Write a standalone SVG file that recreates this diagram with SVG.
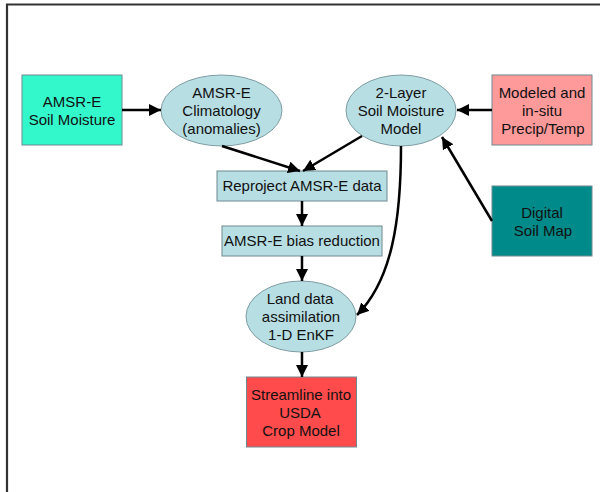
<svg xmlns="http://www.w3.org/2000/svg" width="600" height="492" viewBox="0 0 600 492">
<defs>
<style>
text{font-family:"Liberation Sans",Arial,sans-serif;font-size:15px;fill:#111;text-anchor:middle}
.ell{fill:#B7DEE3;stroke:#7E9CA2;stroke-width:1}
.box{stroke:#6F8A90;stroke-width:1}
.lb{fill:#B7DEE3}
.edge{stroke:#000;stroke-width:2.5;fill:none;marker-end:url(#ah)}
</style>
<marker id="ah" markerUnits="userSpaceOnUse" markerWidth="13" markerHeight="12" refX="12" refY="6" orient="auto">
<path d="M0,0 L12,6 L0,12 z" fill="#000"/>
</marker>
</defs>
<rect width="600" height="492" fill="#fff"/>
<path d="M7,492 V4.5 H600" fill="none" stroke="#333" stroke-width="2.2"/>
<line x1="8" y1="3.5" x2="600" y2="3.5" stroke="#999" stroke-width="1"/>

<g id="amsre-sm"><rect class="box" x="22" y="75" width="100" height="70" fill="#33F8CC"/>
<text x="72" y="107">AMSR-E</text><text x="72" y="125">Soil Moisture</text></g>

<g id="climatology"><ellipse class="ell" cx="221.5" cy="110.5" rx="60.5" ry="35.5"/>
<text x="221.5" y="98">AMSR-E</text><text x="221.5" y="116">Climatology</text><text x="221.5" y="134">(anomalies)</text></g>

<g id="two-layer"><ellipse class="ell" cx="401" cy="110.5" rx="55" ry="35.5"/>
<text x="401" y="98">2-Layer</text><text x="401" y="116">Soil Moisture</text><text x="401" y="134">Model</text></g>

<g id="modeled"><rect class="box" x="492" y="75" width="100" height="70" fill="#FF9A9A"/>
<text x="542" y="98">Modeled and</text><text x="542" y="116">in-situ</text><text x="543" y="134">Precip/Temp</text></g>

<g id="digital"><rect class="box" x="492" y="186" width="100" height="70" fill="#008A8A"/>
<text x="542" y="217.5">Digital</text><text x="543" y="235.5">Soil Map</text></g>

<g id="reproject"><rect class="box lb" x="217" y="171" width="170" height="30"/>
<text x="302" y="191">Reproject AMSR-E data</text></g>

<g id="bias"><rect class="box lb" x="222" y="226" width="160" height="30"/>
<text x="302" y="246">AMSR-E bias reduction</text></g>

<g id="assim"><ellipse class="ell" cx="301" cy="316.5" rx="55" ry="35.5"/>
<text x="300" y="304">Land data</text><text x="301" y="322">assimilation</text><text x="301" y="340">1-D EnKF</text></g>

<g id="streamline"><rect class="box" x="246.5" y="377" width="110" height="70" fill="#FF4B4B"/>
<text x="301" y="399.5">Streamline into</text><text x="300" y="417.5">USDA</text><text x="301" y="435.5">Crop Model</text></g>

<g id="connectors">
<line class="edge" x1="122" y1="110" x2="161" y2="110"/>
<line class="edge" x1="222" y1="146" x2="300" y2="171"/>
<line class="edge" x1="362" y1="136" x2="303" y2="171"/>
<line class="edge" x1="492" y1="110" x2="457" y2="110"/>
<line class="edge" x1="492" y1="221" x2="442" y2="137"/>
<line class="edge" x1="302" y1="201" x2="302" y2="226"/>
<line class="edge" x1="302" y1="256" x2="302" y2="281"/>
<line class="edge" x1="302" y1="352" x2="302" y2="377"/>
<path class="edge" d="M401,146 C401,220 392,280 357,315"/>
</g>
</svg>
